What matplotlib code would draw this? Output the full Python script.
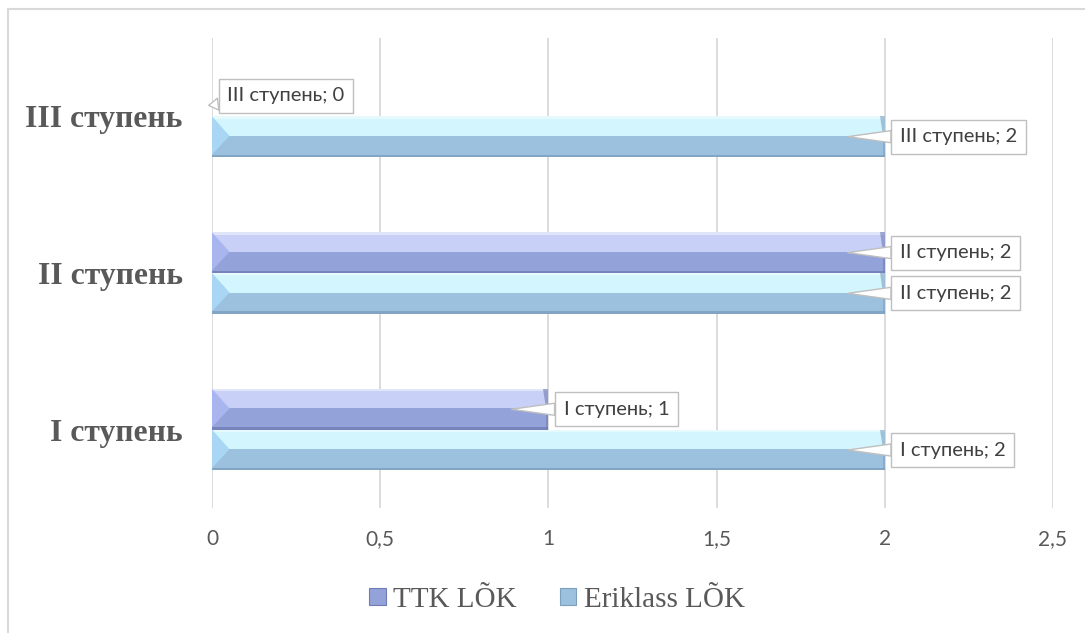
import numpy as np
import matplotlib.pyplot as plt
from matplotlib.patches import Polygon, Patch, Rectangle

categories = ['I ступень', 'II ступень', 'III ступень']
ttk = [1, 2, 0]
eriklass = [2, 2, 2]
series_names = ['TTK LÕK', 'Eriklass LÕK']
xticks = [0, 0.5, 1, 1.5, 2, 2.5]
xtick_labels = ['0', '0,5', '1', '1,5', '2', '2,5']

# colours: top light, lower body, left bevel, bottom edge
ttk_cols = ['#c8d0f7', '#94a2da', '#a9b5ef', '#6f7cb5']
eri_cols = ['#d3f6fe', '#9cc1df', '#a8d6f4', '#7d9fbf']

bar_h = 0.26
bevel = 0.052

fig = plt.figure(figsize=(10.85, 6.33), dpi=100)
ax = fig.add_axes([0.1954, 0.1975, 0.7751, 0.7425])

# outer frame of the chart area
fig.patches.append(Rectangle((8 / 1085, -0.05), 1.2, 1 - 9 / 633 + 0.05,
                             transform=fig.transFigure, fill=False,
                             ec='#d9d9d9', lw=1.5))


def bevel_bar(y, w, cols):
    if w <= 0:
        return
    top, bot = y + bar_h / 2, y - bar_h / 2
    mid = y + bar_h * 0.02
    # body
    ax.barh(y, w, height=bar_h, color=cols[1], lw=0, zorder=2)
    # lighter top part
    ax.barh((top + mid) / 2, w, height=top - mid, color=cols[0], lw=0, zorder=3)
    # thin bright top edge
    ax.barh(top - bar_h * 0.03, w, height=bar_h * 0.06, color='white',
            alpha=0.45, lw=0, zorder=3)
    # dark bottom edge
    ax.barh(bot + bar_h * 0.03, w, height=bar_h * 0.06, color=cols[3],
            alpha=0.8, lw=0, zorder=4)
    # left bevel
    ax.add_patch(Polygon([(0, top), (bevel, mid), (0, bot + bar_h * 0.06)],
                         closed=True, fc=cols[2], lw=0, zorder=4))
    # right end bevel
    ax.add_patch(Polygon([(w - bevel * 0.3, top), (w, top), (w, bot),
                          (w - bevel * 0.12, bot), (w - bevel * 0.12, mid)],
                         closed=True, fc=cols[3], alpha=0.6, lw=0, zorder=4))


def callout(y, w, cat):
    tip_x = w - 0.11 if w > 0 else -0.01
    tip_y = y if w > 0 else y - 0.06
    ax.annotate(f'{cat}; {w}', xy=(tip_x, tip_y), xytext=(w + 0.045, y),
                ha='left', va='center', fontsize=14.5, family='Lato',
                color='#404040', zorder=6, annotation_clip=False,
                bbox=dict(boxstyle='square,pad=0.42', fc='white',
                          ec='#bfbfbf', lw=1),
                arrowprops=dict(arrowstyle='wedge,tail_width=0.6',
                                fc='white', ec='#bfbfbf', lw=1,
                                shrinkA=0, shrinkB=0))


pos = np.arange(len(categories))
for i, cat in enumerate(categories):
    bevel_bar(pos[i] - bar_h / 2, eriklass[i], eri_cols)
    bevel_bar(pos[i] + bar_h / 2, ttk[i], ttk_cols)
for i, cat in enumerate(categories):
    callout(pos[i] - bar_h / 2, eriklass[i], cat)
    callout(pos[i] + bar_h / 2, ttk[i], cat)

ax.set_xlim(0, 2.5)
ax.set_ylim(-0.5, 2.5)
ax.set_xticks(xticks)
ax.set_xticklabels(xtick_labels, family='Lato', fontsize=15, color='#595959')
ax.set_yticks(pos)
ax.set_yticklabels(categories, family='Liberation Serif', fontsize=22.8,
                   fontweight='bold', color='#595959')
ax.tick_params(axis='x', length=0, pad=15)
ax.tick_params(axis='y', length=0, pad=21)
ax.grid(axis='x', color='#d9d9d9', lw=1.3)
ax.set_axisbelow(True)
for s in ax.spines.values():
    s.set_visible(False)

handles = [Patch(fc=ttk_cols[1], ec=ttk_cols[3], lw=0.8),
           Patch(fc=eri_cols[1], ec=eri_cols[3], lw=0.8)]
fig.legend(handles, series_names, loc='center', bbox_to_anchor=(557 / 1085, 1 - 600 / 633),
           ncol=2, frameon=False, handlelength=0.55, handleheight=0.55,
           handletextpad=0.25, columnspacing=1.5,
           prop=dict(family='Liberation Serif', size=21), labelcolor='#595959')

fig.savefig('out.png', dpi=100)
